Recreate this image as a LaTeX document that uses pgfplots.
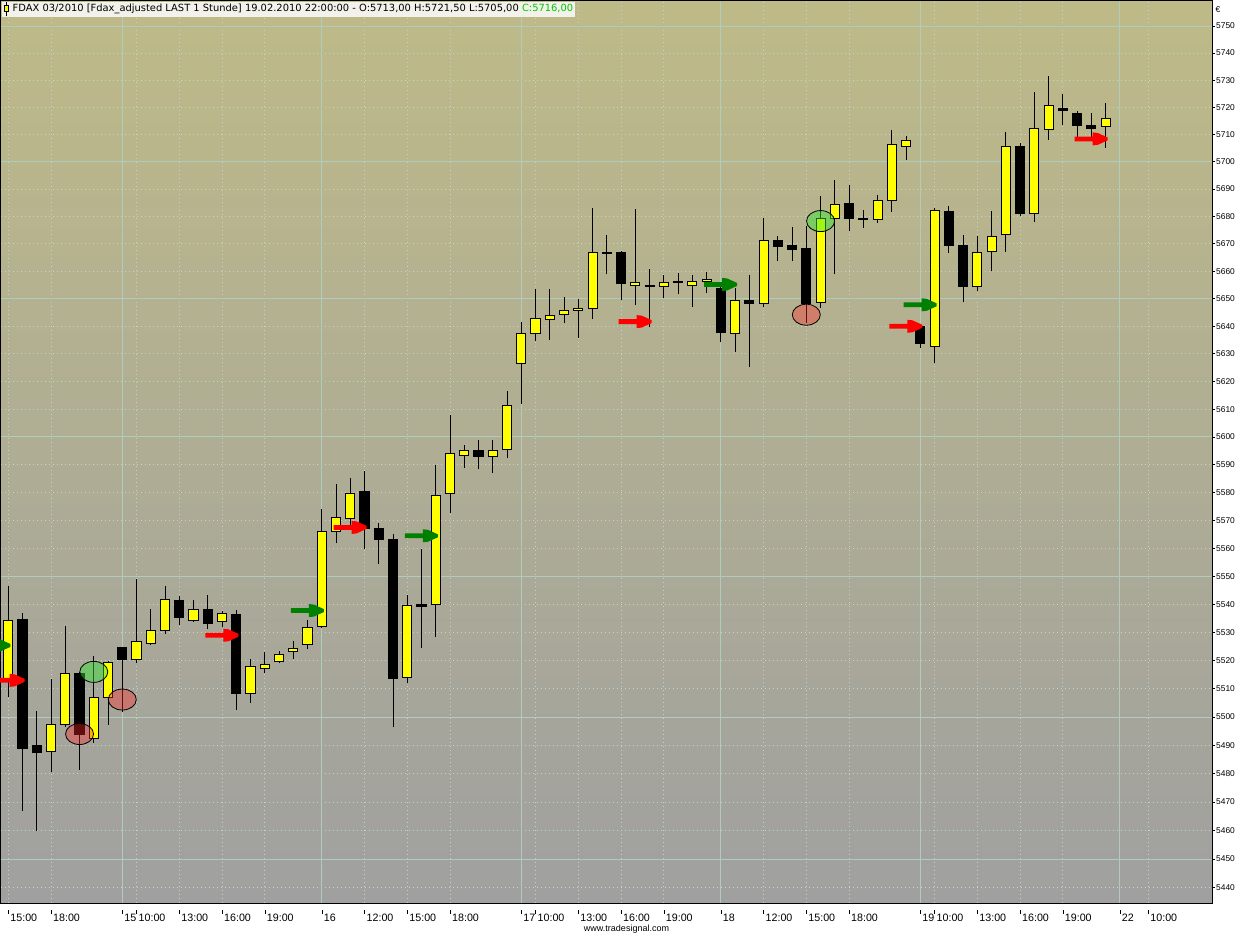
\documentclass[border=0pt]{standalone}
\usepackage{pgfplots}
\pgfplotsset{compat=1.18}
\usepackage{pgfplotstable}
\usepackage{fontspec}
\setmainfont{Liberation Sans}
\newfontfamily\tf{Liberation Sans}
\newfontfamily\ttl{DejaVu Sans}
\definecolor{bgtop}{RGB}{190,186,136}
\definecolor{bgbot}{RGB}{160,160,160}
\definecolor{gridc}{RGB}{176,204,188}
\definecolor{dotc}{RGB}{192,214,200}
\definecolor{cyel}{RGB}{255,255,0}
\definecolor{garr}{RGB}{0,128,0}
\definecolor{rarr}{RGB}{255,0,0}
\definecolor{gell}{RGB}{50,230,50}
\definecolor{rell}{RGB}{255,40,40}
\definecolor{titlebg}{RGB}{242,242,234}
\definecolor{cgreen}{RGB}{0,200,0}
\newcommand\T{\rule[7.7pt]{0.8pt}{4pt}\hspace{1.5pt}}
\pgfdeclareplotmark{sigarrow}{%
 \pgfpathmoveto{\pgfqpoint{-31pt}{2.4pt}}%
 \pgfpathlineto{\pgfqpoint{-13pt}{2.4pt}}%
 \pgfpathlineto{\pgfqpoint{-13pt}{6.5pt}}%
 \pgfpathlineto{\pgfqpoint{-8pt}{6pt}}%
 \pgfpathlineto{\pgfqpoint{2pt}{1.5pt}}%
 \pgfpathlineto{\pgfqpoint{2pt}{-1.5pt}}%
 \pgfpathlineto{\pgfqpoint{-8pt}{-6pt}}%
 \pgfpathlineto{\pgfqpoint{-13pt}{-6.5pt}}%
 \pgfpathlineto{\pgfqpoint{-13pt}{-2.4pt}}%
 \pgfpathlineto{\pgfqpoint{-31pt}{-2.4pt}}%
 \pgfpathclose\pgfusepathqfill}
\pgfdeclareplotmark{sigell}{%
 \pgfpathellipse{\pgfpointorigin}{\pgfqpoint{14pt}{0pt}}{\pgfqpoint{0pt}{10.5pt}}%
 \pgfusepathqfillstroke}

\pgfplotstableread{
i O H L C
0 5513.5 5546.5 5507 5534.2
1 5534.7 5537 5467 5489
2 5489.8 5502 5460 5487.6
3 5488 5513.4 5480.5 5497.3
4 5497.3 5532.2 5496.5 5515.4
5 5515.4 5516 5481.4 5493.7
6 5492.5 5521.7 5491 5507
7 5507 5520 5497.3 5519.3
8 5524.6 5525 5501.8 5520.4
9 5520.4 5548.9 5519.2 5526.9
10 5526 5538.3 5525.5 5530.8
11 5530.7 5546.4 5529.6 5541.7
12 5541.4 5542.9 5532.6 5535.3
13 5534.2 5541.5 5533.8 5538.2
14 5538.2 5543.2 5531.2 5533.1
15 5533.9 5537.5 5532 5536.7
16 5536.4 5537.9 5502.6 5508.5
17 5508.3 5520.7 5505 5517.8
18 5517.2 5522.9 5515.6 5518.6
19 5519.7 5523.5 5519.2 5522.2
20 5523.2 5526.9 5520.5 5524.3
21 5525.7 5534.4 5524.2 5531.8
22 5532 5574 5531.7 5566
23 5566 5583 5561.8 5571
24 5570.6 5585.4 5568 5579.6
25 5580.4 5587.7 5559.6 5567
26 5567 5569 5554.5 5563.3
27 5563.1 5565 5496.3 5513.6
28 5513.9 5543.2 5512.1 5539.5
29 5539.8 5559.6 5524.5 5539.2
30 5539.8 5590 5528.5 5579
31 5579.6 5608 5572.7 5594
32 5593.2 5597 5589 5595.1
33 5595.1 5599 5588.3 5593.1
34 5592.8 5599 5587.2 5595.1
35 5595.4 5616.5 5592.4 5611.2
36 5626.4 5641.7 5612 5637.3
37 5637.3 5653.7 5634.7 5642.8
38 5642.4 5653.4 5635 5643.8
39 5644.2 5650.8 5641.2 5645.7
40 5645.7 5649.8 5635.7 5646.4
41 5646.4 5683.1 5642.6 5667
42 5666.9 5673.3 5658.9 5666.5
43 5666.7 5667.5 5649.5 5655.7
44 5655 5682.7 5647.7 5655.8
45 5655 5661 5639.7 5654.3
46 5654.3 5658.8 5650.1 5655.8
47 5656.3 5659.2 5651.7 5655.8
48 5655 5658.5 5647 5656.2
49 5656.2 5659.9 5652.2 5657
50 5653.7 5656 5634.3 5637.6
51 5637.3 5654 5630.7 5649.3
52 5649.3 5658.5 5625.4 5648.2
53 5648.2 5679.3 5647.1 5671.2
54 5671.2 5672.8 5663.7 5669.2
55 5669.5 5676 5663.7 5668.1
56 5668.4 5676.4 5641.2 5648.2
57 5648.8 5687.3 5646.7 5679.3
58 5679.2 5693.2 5659.1 5684.3
59 5684.8 5691.4 5674.7 5679.2
60 5679.4 5682.4 5675.8 5679.0
61 5679 5687.7 5677.7 5685.8
62 5685.8 5711.8 5681.6 5706.2
63 5705.5 5709.6 5700.6 5707.7
64 5639.8 5641 5632.1 5633.6
65 5632.8 5683 5626.6 5682.1
66 5681.7 5683.7 5666.6 5669.5
67 5669.4 5673.4 5648.7 5654.5
68 5654.5 5672.7 5652.7 5666.7
69 5667.1 5681.8 5660 5672.6
70 5673.3 5711.1 5667 5705.5
71 5705.5 5707 5680.1 5681.2
72 5681.2 5725.7 5677.9 5712.1
73 5711.7 5731.6 5707.9 5720.5
74 5719.4 5725 5713.4 5718.7
75 5717.6 5718.8 5708.2 5713.4
76 5713.5 5718 5708.2 5712.4
77 5713 5721.5 5705 5716
}\candles

\pgfplotstableread{
i p
6 5516.0
57 5678.3
}\greenell
\pgfplotstableread{
i p
5 5494.0
8 5506.2
56 5644.2
}\redell
\pgfplotstableread{
i p
0 5525.4
22 5537.8
30 5564.5
51 5655.2
65 5647.8
}\greenarr
\pgfplotstableread{
i p
1 5513
16 5529
25 5567.5
45 5641.7
64 5640
77 5708.4
}\redarr

\begin{document}
\begin{tikzpicture}
\path[use as bounding box] (0,0) rectangle (1253pt,935pt);
\begin{axis}[
 scale only axis, width=1211pt, height=902pt,
 at={(1pt,32pt)}, anchor=south west,
 y coord trafo/.code={\pgfmathparse{(#1-5600)/5.6}\let\yt\pgfmathresult\pgfmathparse{\yt-\yt*\yt/2000+(\yt*\yt/2000)*(\yt/1500)}},
 xmin=-0.512, xmax=84.47, ymin=5434.6, ymax=5759.26,
 axis background/.style={top color=bgtop, bottom color=bgbot},
 axis line style={black, line width=1pt},
 ytick pos=right, yticklabel pos=right,
 ytick={5440,5450,5460,5470,5480,5490,5500,5510,5520,5530,5540,5550,5560,5570,5580,5590,5600,5610,5620,5630,5640,5650,5660,5670,5680,5690,5700,5710,5720,5730,5740,5750},
 yticklabels={5440,5450,5460,5470,5480,5490,5500,5510,5520,5530,5540,5550,5560,5570,5580,5590,5600,5610,5620,5630,5640,5650,5660,5670,5680,5690,5700,5710,5720,5730,5740,5750},
 tick align=outside, major tick length=3pt,
 ytick style={black, line width=0.8pt},
 yticklabel style={font=\tf\fontsize{8.4}{10}\selectfont, anchor=west, inner sep=0pt, xshift=1pt},
 xtick={0,3,8,9,12,15,18,22,25,28,31,36,37,40,43,46,50,53,56,59,64,65,68,71,74,78,80},
 xticklabels={\T 15:00,\T 18:00,\T 15,\T 10:00,\T 13:00,\T 16:00,\T 19:00,\T 16,\T 12:00,\T 15:00,\T 18:00,\T 17,\T 10:00,\T 13:00,\T 16:00,\T 19:00,\T 18,\T 12:00,\T 15:00,\T 18:00,\T 19,\T 10:00,\T 13:00,\T 16:00,\T 19:00,\T 22,\T 10:00},
 xtick style={draw=none},
 xticklabel style={font=\tf\fontsize{10.7}{12}\selectfont, anchor=north west, inner sep=0pt, xshift=-0.4pt, yshift=-4pt},
 grid=major,
 major grid style={dotc, line width=1pt, dash pattern=on 1pt off 3pt},
 extra x ticks={8,22,36,50,64,78}, extra x tick labels={},
 extra x tick style={major tick length=0pt, major grid style={gridc, solid, line width=1pt}},
 extra y ticks={5450,5500,5550,5600,5650,5700,5750}, extra y tick labels={},
 extra y tick style={major grid style={gridc, solid, line width=1pt}},
]
\pgfplotstablegetrowsof{\candles}
\pgfmathtruncatemacro{\lastrow}{\pgfplotsretval-1}
\pgfplotsforeachungrouped \r in {0,...,\lastrow}{%
 \pgfplotstablegetelem{\r}{i}\of\candles\let\ci\pgfplotsretval
 \pgfplotstablegetelem{\r}{O}\of\candles\let\co\pgfplotsretval
 \pgfplotstablegetelem{\r}{H}\of\candles\let\ch\pgfplotsretval
 \pgfplotstablegetelem{\r}{L}\of\candles\let\cl\pgfplotsretval
 \pgfplotstablegetelem{\r}{C}\of\candles\let\cc\pgfplotsretval
 \pgfmathsetmacro{\xl}{\ci-0.32}%
 \pgfmathsetmacro{\xr}{\ci+0.32}%
 \pgfmathtruncatemacro{\up}{\cc>\co ? 1 : 0}%
 \ifnum\up=1 \def\bc{cyel}\else\def\bc{black}\fi
 \edef\tmp{\noexpand\addplot[forget plot, draw=black, line width=1pt] coordinates {(\ci,\cl) (\ci,\ch)};}\tmp
 \edef\tmp{\noexpand\addplot[forget plot, draw=black, line width=1pt, fill=\bc] coordinates {(\xl,\co) (\xr,\co) (\xr,\cc) (\xl,\cc)} -- cycle;}\tmp
}
\addplot[only marks, mark=sigell, mark options={fill=gell, fill opacity=0.45, draw=black, line width=0.8pt}] table[x=i, y=p] {\greenell};
\addplot[only marks, mark=sigell, mark options={fill=rell, fill opacity=0.37, draw=black, line width=0.8pt}] table[x=i, y=p] {\redell};
\addplot[only marks, mark=sigarrow, mark options={fill=garr, draw=none}] table[x=i, y=p] {\greenarr};
\addplot[only marks, mark=sigarrow, mark options={fill=rarr, draw=none}] table[x=i, y=p] {\redarr};
\node[anchor=north west, fill=titlebg, inner xsep=1.5pt, inner ysep=0pt, minimum height=15pt, xshift=0.5pt, yshift=-0.5pt, font=\ttl\fontsize{9.9}{12}\selectfont] at (axis description cs:0,1)
 {\setlength\fboxsep{0pt}\setlength\fboxrule{0.8pt}\makebox[6pt]{\rule[-4.5pt]{0.8pt}{13.4pt}}\hspace{-6pt}\makebox[6pt]{\fcolorbox{black}{cyel}{\rule{0pt}{5.5pt}\hspace{3.6pt}}}\hspace{3.5pt}FDAX 03/2010 [Fdax\_adjusted LAST 1 Stunde] 19.02.2010 22:00:00 - O:5713,00 H:5721,50 L:5705,00 \textcolor{cgreen}{C:5716,00}};
\end{axis}
\node[anchor=north west, inner sep=0pt, font=\tf\fontsize{8.4}{10}\selectfont] at (1215.5pt,929pt) {€};
\node[anchor=base, inner sep=0pt, font=\tf\fontsize{9}{10}\selectfont] at (626.5pt,4pt) {www.tradesignal.com};
\end{tikzpicture}
\end{document}
